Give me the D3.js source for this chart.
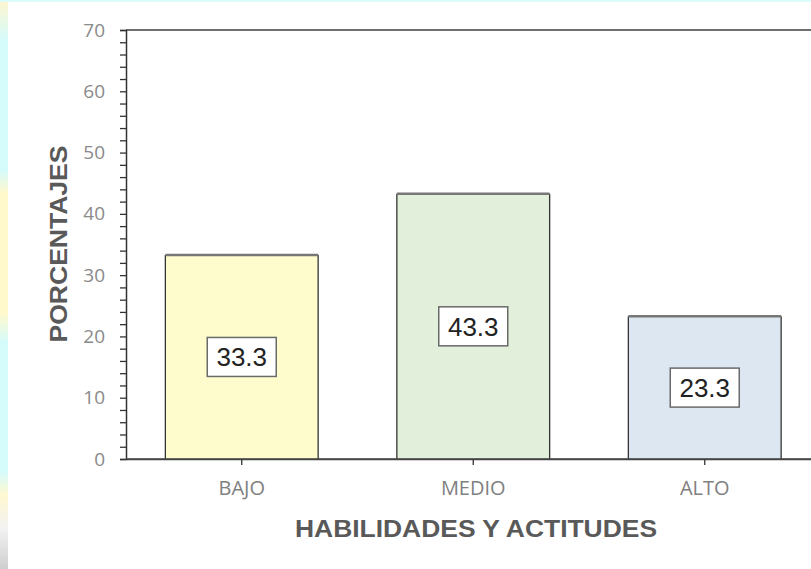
<!DOCTYPE html>
<html><head><meta charset="utf-8">
<script src="https://cdn.jsdelivr.net/npm/d3@7"></script>
<style>body{margin:0;background:#fff}svg{display:block}</style>
</head><body>
<svg id="c" width="811" height="569"></svg>
<script>
const categories = ["BAJO", "MEDIO", "ALTO"];
const values = [33.3, 43.3, 23.3];
const barColors = ["#fefccd", "#e2efda", "#dde7f2"];
const yTicks = [0, 10, 20, 30, 40, 50, 60, 70];
const yTitle = "PORCENTAJES";
const xTitle = "HABILIDADES Y ACTITUDES";

const svg = d3.select("#c");
const W = 811, H = 569;
const mLeft = 126, mRight = 820.5, mTop = 30, mBottom = 459;

// decorative left strip / top strip
const defs = svg.append("defs");
const g1 = defs.append("linearGradient").attr("id","strip").attr("x1",0).attr("x2",0).attr("y1",0).attr("y2",1);
[[0,"#fff6cf"],[0.07,"#d6fbfb"],[0.3,"#d6fbfb"],[0.34,"#fff9cc"],[0.55,"#fff9cc"],[0.6,"#d6fbfb"],[0.83,"#d6fbfb"],[0.87,"#fff8d0"],[0.93,"#f2f2f2"],[1,"#cfcfcf"]]
  .forEach(s => g1.append("stop").attr("offset", s[0]).attr("stop-color", s[1]));
svg.append("rect").attr("x",0).attr("y",0).attr("width",8).attr("height",H).attr("fill","url(#strip)");
svg.append("rect").attr("x",0).attr("y",0).attr("width",W).attr("height",2).attr("fill","#dcfbfb");

const x = d3.scaleBand().domain(categories).range([mLeft, mRight]).paddingInner(0.34).paddingOuter(0.17);
const y = d3.scaleLinear().domain([0, 70]).range([mBottom, mTop]);

// top border line
svg.append("line").attr("x1", mLeft).attr("x2", W).attr("y1", mTop).attr("y2", mTop)
  .attr("stroke", "#6f6f6f").attr("stroke-width", 2);

// bars
const bars = svg.append("g");
categories.forEach((c, i) => {
  const bx = x(c), bw = x.bandwidth(), by = y(values[i]);
  bars.append("rect").attr("x", bx).attr("y", by).attr("width", bw).attr("height", y(0) - by)
    .attr("fill", barColors[i]);
  bars.append("line").attr("x1", bx).attr("x2", bx).attr("y1", by).attr("y2", y(0)).attr("stroke", "#333").attr("stroke-width", 1.3);
  bars.append("line").attr("x1", bx + bw).attr("x2", bx + bw).attr("y1", by).attr("y2", y(0)).attr("stroke", "#333").attr("stroke-width", 1.3);
  bars.append("line").attr("x1", bx).attr("x2", bx + bw).attr("y1", by).attr("y2", by).attr("stroke", "#777").attr("stroke-width", 2.5);
});

// y axis
const yAxisG = svg.append("g").attr("transform", `translate(${mLeft},0)`);
yAxisG.call(d3.axisLeft(y).tickValues(d3.range(0, 71, 2)).tickSize(6).tickFormat(""));
yAxisG.select(".domain").attr("stroke", "#333").attr("stroke-width", 1.5);
yAxisG.selectAll(".tick line").attr("stroke", "#333").attr("stroke-width", 1.3);
const yLab = svg.append("g").attr("transform", `translate(${mLeft},0)`)
  .call(d3.axisLeft(y).tickValues(yTicks).tickSize(0).tickPadding(21));
yLab.select(".domain").remove();
yLab.selectAll("text").attr("font-family", "Open Sans, sans-serif").attr("font-size", 19).attr("fill", "#8a8a8a");

// x axis
const xAxisG = svg.append("g").attr("transform", `translate(0,${mBottom})`);
xAxisG.call(d3.axisBottom(x).tickSize(6).tickPadding(16).tickSizeOuter(0));
xAxisG.select(".domain").attr("stroke", "#444").attr("stroke-width", 1.5);
svg.append("line").attr("x1", mLeft).attr("x2", W).attr("y1", mBottom).attr("y2", mBottom).attr("stroke", "#444").attr("stroke-width", 1.5);
xAxisG.selectAll(".tick line").attr("stroke", "#333").attr("stroke-width", 1.3);
xAxisG.selectAll("text").attr("font-family", "Open Sans, sans-serif").attr("font-size", 20).attr("fill", "#808080");

// value labels
const lab = svg.append("g");
categories.forEach((c, i) => {
  const cx = x(c) + x.bandwidth() / 2, cy = y(values[i] / 2);
  lab.append("rect").attr("x", cx - 34.5).attr("y", cy - 19.5).attr("width", 69).attr("height", 39)
    .attr("fill", "#fff").attr("stroke", "#6a6a6a").attr("stroke-width", 1.5);
  lab.append("text").attr("x", cx).attr("y", cy).attr("dy", "0.36em").attr("text-anchor", "middle")
    .attr("font-family", "Liberation Sans, Arial, sans-serif").attr("font-size", 26).attr("fill", "#222")
    .text(values[i].toFixed(1));
});

// titles
svg.append("text").attr("x", 476).attr("y", 537).attr("text-anchor", "middle")
  .attr("font-family", "Liberation Sans, Arial, sans-serif").attr("font-weight", "bold").attr("font-size", 24)
  .attr("textLength", 362).attr("lengthAdjust", "spacingAndGlyphs")
  .attr("fill", "#595959").text(xTitle);
svg.append("text").attr("transform", "translate(67,244) rotate(-90)").attr("text-anchor", "middle")
  .attr("font-family", "Liberation Sans, Arial, sans-serif").attr("font-weight", "bold").attr("font-size", 24)
  .attr("textLength", 197).attr("lengthAdjust", "spacingAndGlyphs")
  .attr("fill", "#595959").text(yTitle);
</script>
</body></html>
